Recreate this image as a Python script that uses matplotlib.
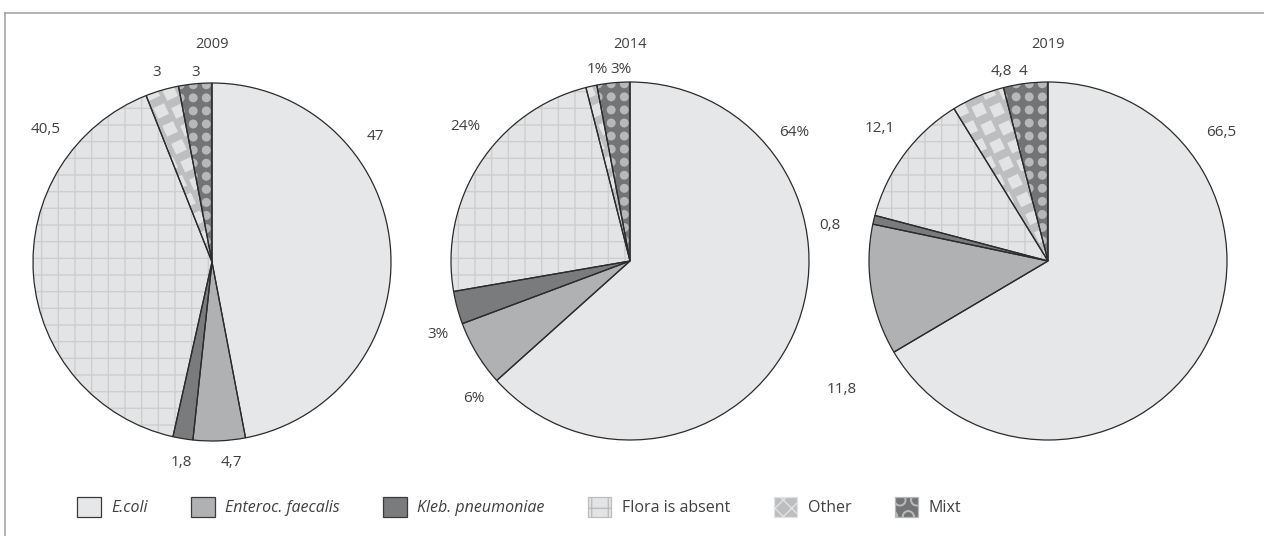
import matplotlib.pyplot as plt
import numpy as np
from matplotlib.patches import Patch, Circle, Rectangle
from matplotlib.collections import PatchCollection
from matplotlib.lines import Line2D

plt.rcParams['font.family'] = ['Open Sans', 'DejaVu Sans']
plt.rcParams['hatch.linewidth'] = 1.0

# data
categories = ['E.coli', 'Enteroc. faecalis', 'Kleb. pneumoniae', 'Flora is absent', 'Other', 'Mixt']
years = ['2009', '2014', '2019']
values_2009 = [47, 4.7, 1.8, 40.5, 3, 3]
values_2014 = [64, 6, 3, 24, 1, 3]
values_2019 = [66.5, 11.8, 0.8, 12.1, 4.8, 4]
labels_2009 = ['47', '4,7', '1,8', '40,5', '3', '3']
labels_2014 = ['64%', '6%', '3%', '24%', '1%', '3%']
labels_2019 = ['66,5', '11,8', '0,8', '12,1', '4,8', '4']

# style
face_colors = ['#e6e7e8', '#b0b1b3', '#7a7b7d', '#e3e4e5', '#bdbebf', '#737476']
italic = [True, True, True, False, False, False]
txt_col = '#404040'

# label positions in pie-radius units (Excel style placement)
pos_2009 = [(0.91, 0.70), (0.11, -1.12), (-0.17, -1.12), (-0.93, 0.74), (-0.31, 1.06), (-0.09, 1.06)]
pos_2014 = [(0.92, 0.72), (-0.87, -0.77), (-1.07, -0.41), (-0.92, 0.75), (-0.18, 1.07), (-0.05, 1.07)]
pos_2019 = [(0.97, 0.72), (-1.15, -0.72), (-1.22, 0.20), (-0.94, 0.74), (-0.26, 1.06), (-0.14, 1.06)]

W, H = 1264, 536
fig = plt.figure(figsize=(W / 100, H / 100), dpi=100)

# frame (left and top edges visible)
fig.add_artist(Line2D([5 / W, 5 / W], [0, 1 - 13 / H], color='#a6a6a6', lw=1.2))
fig.add_artist(Line2D([5 / W, 1], [1 - 13 / H, 1 - 13 / H], color='#a6a6a6', lw=1.2))

centers = [(212, 262), (630, 261), (1048, 261)]
R = 179
lim = 1.25


def dot_pattern(ax, wedge):
    step, rad = 0.073, 0.025
    pts = np.arange(-1.2, 1.2, step)
    circles = [Circle((x, y), rad) for x in pts for y in pts]
    pc = PatchCollection(circles, facecolor='#b7b8b9', edgecolor='none', zorder=2)
    ax.add_collection(pc)
    pc.set_clip_path(wedge)


def square_pattern(ax, wedge):
    step, side = 0.1, 0.066
    pts = np.arange(-1.2, 1.2, step)
    sq = []
    for i, y in enumerate(pts):
        for x in pts:
            xo = x + (step / 2 if i % 2 else 0)
            sq.append(Rectangle((xo, y), side, side, angle=25))
    pc = PatchCollection(sq, facecolor='#e2e3e4', edgecolor='none', zorder=2)
    ax.add_collection(pc)
    pc.set_clip_path(wedge)


def draw_pie(cx, cy, year, values, labels, positions):
    ax = fig.add_axes([(cx - lim * R) / W, (H - cy - lim * R) / H, 2 * lim * R / W, 2 * lim * R / H])
    wedges = ax.pie(values, colors=face_colors, startangle=90, counterclock=False,
                    wedgeprops=dict(linewidth=0, zorder=1))[0]
    wedges[3].set_hatch('+')
    wedges[3].set_edgecolor('#cdcecf')
    square_pattern(ax, wedges[4])
    dot_pattern(ax, wedges[5])
    ax.pie(values, colors=['none'] * len(values), startangle=90, counterclock=False,
           wedgeprops=dict(linewidth=0.9, edgecolor='#2b2b2b', zorder=3))
    for lab, (px, py) in zip(labels, positions):
        ax.text(px, py, lab, ha='center', va='center', fontsize=11, color=txt_col)
    ax.set_xlim(-lim, lim)
    ax.set_ylim(-lim, lim)
    fig.text(cx / W, 1 - 45 / H, year, ha='center', va='center', fontsize=10.5, color=txt_col)


draw_pie(*centers[0], years[0], values_2009, labels_2009, pos_2009)
draw_pie(*centers[1], years[1], values_2014, labels_2014, pos_2014)
draw_pie(*centers[2], years[2], values_2019, labels_2019, pos_2019)

# legend
hatch_list = [None, None, None, '+', 'xx', 'O']
hatch_cols = ['#3a3a3a', '#3a3a3a', '#3a3a3a', '#bcbdbe', '#e2e3e4', '#b7b8b9']
handles = []
for fc, h, hc in zip(face_colors, hatch_list, hatch_cols):
    handles.append(Patch(facecolor=fc, edgecolor=hc, hatch=h, linewidth=0.9))
leg = fig.legend(handles, categories, loc='center left', bbox_to_anchor=(63 / W, 1 - 507 / H),
                 ncol=6, frameon=False, handlelength=1.45, handleheight=1.6, handletextpad=0.65,
                 columnspacing=2.75, fontsize=11.5)
for t, it in zip(leg.get_texts(), italic):
    t.set_color(txt_col)
    if it:
        t.set_style('italic')

fig.savefig('out.png', dpi=100)
